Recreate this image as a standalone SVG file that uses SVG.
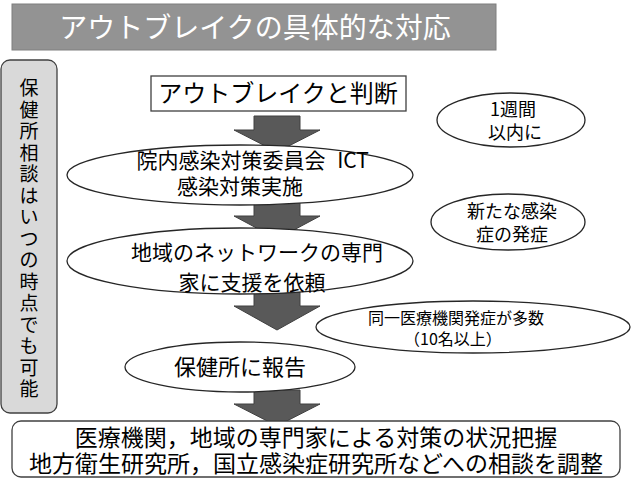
<svg xmlns="http://www.w3.org/2000/svg" width="633" height="481" viewBox="0 0 633 481">
<style>
.t{font-family:"Noto Sans CJK JP","Liberation Sans",sans-serif;fill:#000;text-anchor:middle}
.el{fill:#fff;stroke:#262626;stroke-width:1.3}
.ar{fill:#595959;stroke:#404040;stroke-width:1}
</style>
<rect width="633" height="481" fill="#fff"/>
<g id="title">
<rect x="12" y="4" width="484" height="46" fill="#939393" stroke="#7f7f7f" stroke-width="1"/>
<text class="t" x="255" y="38" font-size="28" style="fill:#fff">アウトブレイクの具体的な対応</text>
</g>
<g id="side">
<rect x="1" y="60" width="56" height="353" rx="9" fill="#d9d9d9" stroke="#404040" stroke-width="1.3"/>
<text class="t" font-size="19" x="29"><tspan x="29" y="95">保</tspan><tspan x="29" y="116.5">健</tspan><tspan x="29" y="138">所</tspan><tspan x="29" y="159.5">相</tspan><tspan x="29" y="181">談</tspan><tspan x="29" y="202.5">は</tspan><tspan x="29" y="224">い</tspan><tspan x="29" y="245.5">つ</tspan><tspan x="29" y="267">の</tspan><tspan x="29" y="288.5">時</tspan><tspan x="29" y="310">点</tspan><tspan x="29" y="331.5">で</tspan><tspan x="29" y="353">も</tspan><tspan x="29" y="374.5">可</tspan><tspan x="29" y="396">能</tspan></text>
</g>
<g id="connectors">
<polygon class="ar" points="254,116 300,116 300,130 320,130 277,152 234,130 254,130"/>
<polygon class="ar" points="254,203 300,203 300,216 320,216 277,239 234,216 254,216"/>
<polygon class="ar" points="254,292 300,292 300,306 320,306 277,330 234,306 254,306"/>
<polygon class="ar" points="254,390 300,390 300,404 320,404 277,426 234,404 254,404"/>
</g>
<g id="n1">
<rect x="151" y="76" width="255" height="35" fill="#fff" stroke="#404040" stroke-width="1.3"/>
<text class="t" x="278" y="102" font-size="24">アウトブレイクと判断</text>
</g>
<g id="n2">
<ellipse class="el" cx="240" cy="175" rx="173" ry="30"/>
<text class="t" font-size="21"><tspan x="231" y="168">院内感染対策委員会</tspan><tspan x="353" y="168">ICT</tspan><tspan x="240" y="194">感染対策実施</tspan></text>
</g>
<g id="n3">
<ellipse class="el" cx="240" cy="261" rx="173" ry="33"/>
<text class="t" font-size="21"><tspan x="257" y="260">地域のネットワークの専門</tspan><tspan x="252" y="290">家に支援を依頼</tspan></text>
</g>
<g id="n6">
<ellipse class="el" cx="473" cy="327" rx="157" ry="26"/>
<text class="t" font-size="16"><tspan x="456" y="324">同一医療機関発症が多数</tspan><tspan x="453" y="345">（10名以上）</tspan></text>
</g>
<g id="n4">
<ellipse class="el" cx="240" cy="367" rx="115" ry="25"/>
<text class="t" x="240" y="375" font-size="22">保健所に報告</text>
</g>
<g id="n5">
<rect x="12" y="421" width="608" height="56" rx="9" fill="#fff" stroke="#404040" stroke-width="1.3"/>
<text class="t" font-size="23"><tspan x="316" y="446">医療機関，地域の専門家による対策の状況把握</tspan><tspan x="316" y="472">地方衛生研究所，国立感染症研究所などへの相談を調整</tspan></text>
</g>
<g id="n7">
<ellipse class="el" cx="511" cy="120" rx="74" ry="27"/>
<text class="t" font-size="18"><tspan x="513" y="116">1週間</tspan><tspan x="515" y="139">以内に</tspan></text>
</g>
<g id="n8">
<ellipse class="el" cx="508" cy="222" rx="77" ry="28"/>
<text class="t" font-size="18"><tspan x="512" y="218">新たな感染</tspan><tspan x="512" y="241">症の発症</tspan></text>
</g>
</svg>
